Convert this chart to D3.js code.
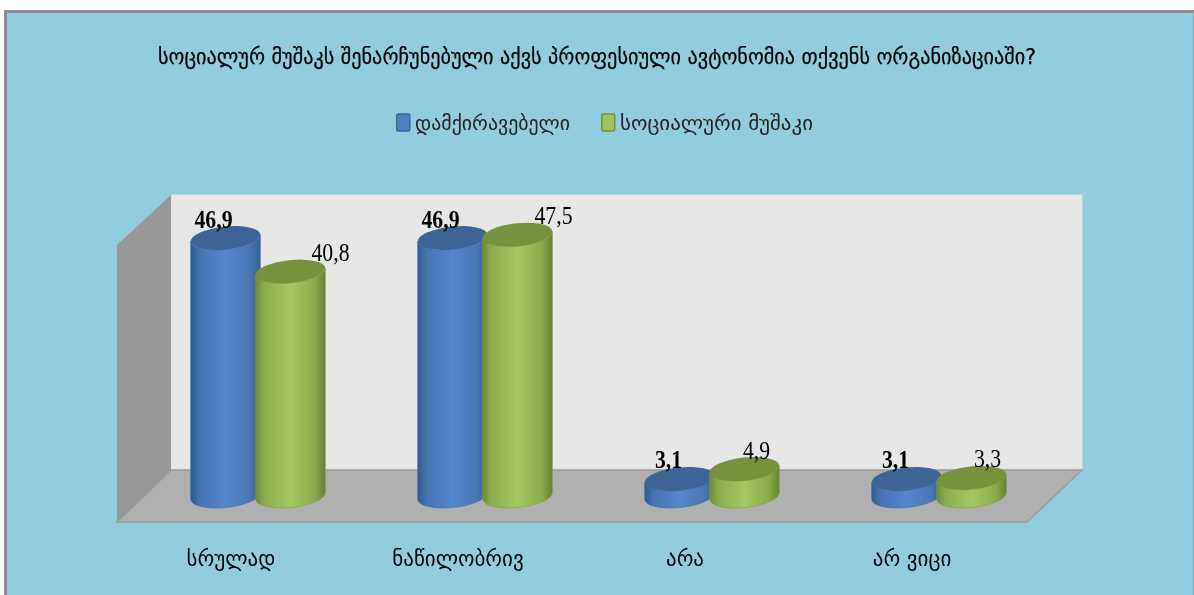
<!DOCTYPE html>
<html><head><meta charset="utf-8">
<style>html,body{margin:0;padding:0;background:#fff;overflow:hidden}svg{display:block}</style>
<script src="https://cdn.jsdelivr.net/npm/d3@7"></script></head><body><div id="c"></div>
<script>
const titleText = "სოციალურ მუშაკს შენარჩუნებული აქვს პროფესიული ავტონომია თქვენს ორგანიზაციაში?";
const categories = ["სრულად","ნაწილობრივ","არა","არ ვიცი"];
const seriesNames = ["დამქირავებელი","სოციალური მუშაკი"];
const employerValues = [46.9,46.9,3.1,3.1];
const workerValues = [40.8,47.5,4.9,3.3];
const labelEmployer = ["46,9","46,9","3,1","3,1"];
const labelWorker = ["40,8","47,5","4,9","3,3"];

const W=1194,H=595;
const svg=d3.select("#c").append("svg").attr("width",W).attr("height",H);
const defs=svg.append("defs");
function grad(id,edge,mid,edge2){
  const g=defs.append("linearGradient").attr("id",id).attr("x1","0").attr("x2","1").attr("y1","0").attr("y2","0");
  [[0,edge],[.12,d3.interpolateRgb(edge,mid)(.55)],[.5,mid],[.85,d3.interpolateRgb(edge2,mid)(.6)],[1,edge2]].forEach(s=>g.append("stop").attr("offset",s[0]).attr("stop-color",s[1]));
}
grad("g0","#2f5a8e","#5588cb","#35608f");
grad("g1","#6c8a35","#a5c860","#64802f");
defs.append("filter").attr("id","soft").append("feGaussianBlur").attr("stdDeviation",0.35);

// frame
svg.append("rect").attr("x",4).attr("y",10).attr("width",W-4).attr("height",H-10).attr("fill","#8c8c8c");
svg.append("rect").attr("x",7).attr("y",13).attr("width",W-8).attr("height",H-13).attr("fill","#92cddf");
svg.append("rect").attr("x",W-1).attr("y",13).attr("width",1).attr("height",H-13).attr("fill","#7fa6b4");

const x0=d3.scaleBand().domain(categories).range([144.5,1052.5]);
const x1=d3.scaleBand().domain([0,1]).range([-65,65]);
const y=d3.scaleLinear().domain([0,50]).range([496,221]);

// walls and floor
const wall=[[171,195],[1082,195],[1082,470],[171,470]];
const side=[[117,245],[171,195],[171,470],[117,522]];
const floor=[[117,522],[171,470],[1082,470],[1027,522]];
const line=d3.line();
svg.append("path").attr("d",line(wall)+"Z").attr("fill","#e7e7e7").attr("stroke","#dfe3e3").attr("stroke-width",1);
svg.append("path").attr("d",line(side)+"Z").attr("fill","#979797");
svg.append("path").attr("d",line(floor)+"Z").attr("fill","#b0b0b0").attr("stroke","#969a9c").attr("stroke-width",1.5);

// cylinders
const rx=35,ry=11.5,rot=-6,th=rot*Math.PI/180;
const ex=Math.hypot(rx*Math.cos(th),ry*Math.sin(th));
const t=Math.atan2(-ry*Math.sin(th),rx*Math.cos(th));
const dy=rx*Math.cos(t)*Math.sin(th)+ry*Math.sin(t)*Math.cos(th);
const labelShift=[[-12,-12,-11,-11],[40,36,12,16]];
const series=[{v:employerValues,l:labelEmployer,top:"#3c6595",edge:"#3a6da8",bold:true},{v:workerValues,l:labelWorker,top:"#76923c",edge:"#7f9f42",bold:false}];
series.forEach((s,i)=>{
  const g=svg.append("g").selectAll("g").data(categories.map((c,j)=>({c,j,v:s.v[j],l:s.l[j]}))).join("g")
    .attr("transform",d=>`translate(${x0(d.c)+x0.bandwidth()/2+x1(i)+x1.bandwidth()/2},0)`);
  g.append("path").attr("fill",`url(#g${i})`).attr("stroke",s.edge).attr("stroke-width",.6)
    .attr("d",d=>{const yt=y(d.v),yb=y(0);
      return `M${-ex},${yt-dy}L${-ex},${yb-dy}A${rx},${ry} ${rot} 0 0 ${ex},${yb+dy}L${ex},${yt+dy}A${rx},${ry} ${rot} 0 1 ${-ex},${yt-dy}Z`;});
  g.append("ellipse").attr("rx",rx).attr("ry",ry).attr("fill",s.top)
    .attr("transform",d=>`translate(0,${y(d.v)}) rotate(${rot})`);
  g.append("text").attr("transform",d=>`translate(${labelShift[i][d.j]},${y(d.v)-10.5}) scale(0.87,1)`)
    .attr("text-anchor","middle").attr("font-family","'Liberation Serif',serif")
    .attr("font-size",25).attr("font-weight",s.bold?"bold":"normal").attr("fill","#000").attr("filter","url(#soft)")
    .text(d=>d.l);
});

const font="'DejaVu Sans',sans-serif";
svg.append("text").attr("x",597).attr("y",64).attr("text-anchor","middle").attr("font-family",font).attr("font-size",21).attr("textLength",878).attr("lengthAdjust","spacingAndGlyphs").attr("fill","#000").attr("stroke","#000").attr("stroke-width",0.25).attr("filter","url(#soft)").text(titleText);

// legend
const legX=[396,601], legT=[415,620], legW=[155,193];
seriesNames.forEach((n,i)=>{
  svg.append("rect").attr("x",legX[i]+.75).attr("y",114).attr("width",13).attr("height",17).attr("rx",1.5).attr("fill",i?"#a2c35b":"#5080c0").attr("stroke",i?"#768f40":"#3d6695").attr("stroke-width",1.5);
  svg.append("text").attr("x",legT[i]).attr("y",130).attr("font-family",font).attr("font-size",20).attr("textLength",legW[i]).attr("lengthAdjust","spacingAndGlyphs").attr("fill","#222").attr("filter","url(#soft)").text(n);
});

// category axis
const axis=d3.axisBottom(x0).tickSize(0).tickPadding(0);
const ax=svg.append("g").attr("transform","translate(-27,553)").call(axis);
ax.select(".domain").remove();
ax.selectAll("text").attr("font-family",font).attr("font-size",21).attr("fill","#000").attr("dy","0.6em").attr("filter","url(#soft)");
</script></body></html>
